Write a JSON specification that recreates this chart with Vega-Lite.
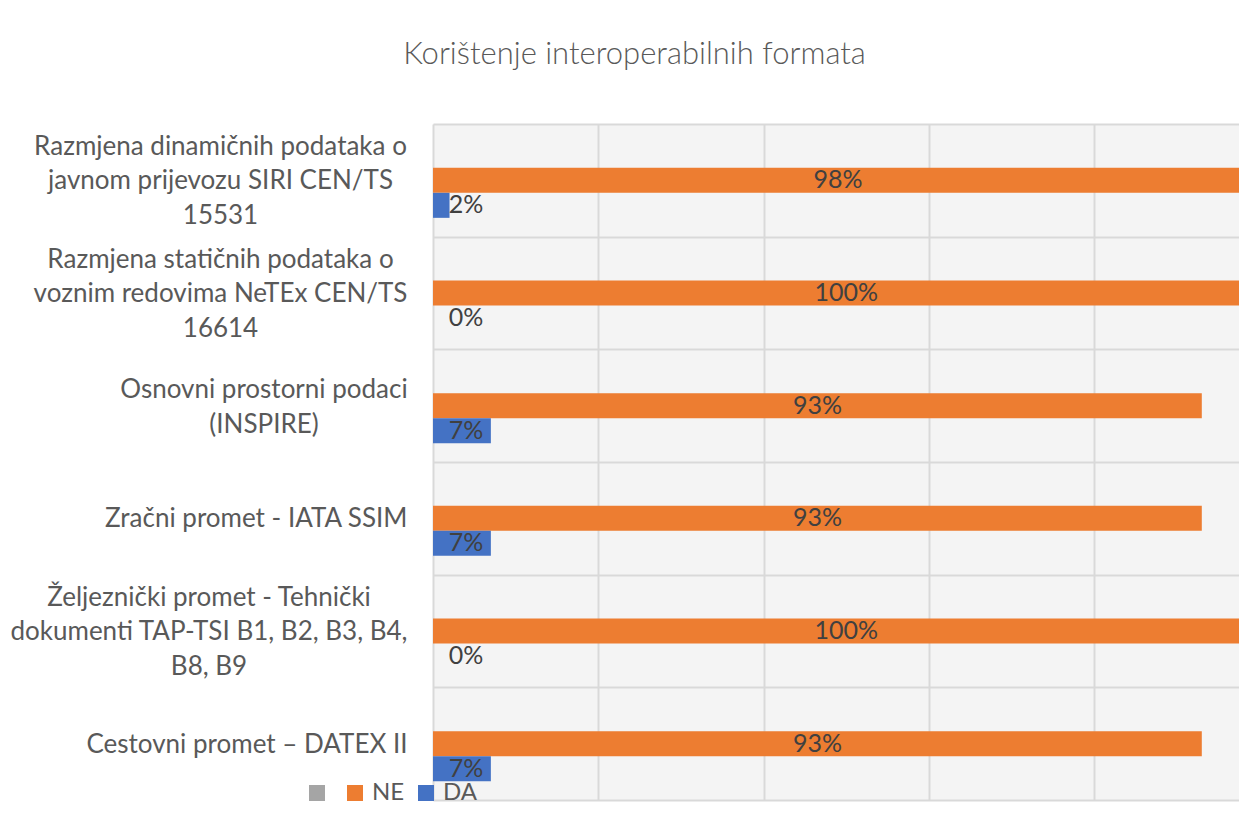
{
  "$schema": "https://vega.github.io/schema/vega-lite/v6.json",
  "width": 806,
  "height": 676,
  "autosize": {"type": "none"},
  "padding": {"left": 433, "top": 124, "right": 0, "bottom": 14},
  "background": "white",
  "title": {
    "text": "Korištenje interoperabilnih formata",
    "font": "Lato",
    "fontSize": 31,
    "fontWeight": 300,
    "color": "#595959",
    "anchor": "middle",
    "frame": "group",
    "dx": -201.5,
    "offset": 32
  },
  "data": {
    "values": [
      {"kategorija": "Razmjena dinamičnih podataka o\njavnom prijevozu SIRI CEN/TS\n15531", "serija": "NE", "udio": 0.98},
      {"kategorija": "Razmjena dinamičnih podataka o\njavnom prijevozu SIRI CEN/TS\n15531", "serija": "DA", "udio": 0.02},
      {"kategorija": "Razmjena statičnih podataka o\nvoznim redovima NeTEx CEN/TS\n16614", "serija": "NE", "udio": 1.0},
      {"kategorija": "Razmjena statičnih podataka o\nvoznim redovima NeTEx CEN/TS\n16614", "serija": "DA", "udio": 0.0},
      {"kategorija": "Osnovni prostorni podaci\n(INSPIRE)", "serija": "NE", "udio": 0.93},
      {"kategorija": "Osnovni prostorni podaci\n(INSPIRE)", "serija": "DA", "udio": 0.07},
      {"kategorija": "Zračni promet - IATA SSIM", "serija": "NE", "udio": 0.93},
      {"kategorija": "Zračni promet - IATA SSIM", "serija": "DA", "udio": 0.07},
      {"kategorija": "Željeznički promet - Tehnički\ndokumenti TAP-TSI B1, B2, B3, B4,\nB8, B9", "serija": "NE", "udio": 1.0},
      {"kategorija": "Željeznički promet - Tehnički\ndokumenti TAP-TSI B1, B2, B3, B4,\nB8, B9", "serija": "DA", "udio": 0.0},
      {"kategorija": "Cestovni promet – DATEX II", "serija": "NE", "udio": 0.93},
      {"kategorija": "Cestovni promet – DATEX II", "serija": "DA", "udio": 0.07}
    ]
  },
  "encoding": {
    "y": {
      "field": "kategorija",
      "type": "nominal",
      "sort": null,
      "scale": {"paddingInner": 0, "paddingOuter": 0},
      "axis": {
        "title": null,
        "domain": false,
        "ticks": false,
        "tickSize": 0,
        "grid": true,
        "tickBand": "extent",
        "gridColor": "#d9d9d9",
        "gridWidth": 2,
        "labelFont": "Lato",
        "labelFontSize": 26,
        "labelColor": "#595959",
        "labelLineHeight": 34.5,
        "labelLimit": 0,
        "labelBaseline": "alphabetic",
        "labelExpr": "split(datum.label, '\\n')",
        "labelAlign": {"condition": {"test": "indexof('' + datum.label, '\\n') >= 0", "value": "center"}, "value": "right"},
        "labelPadding": {
          "condition": [
            {"test": "indexof('' + datum.label, 'dinamičnih') >= 0", "value": 213},
            {"test": "indexof('' + datum.label, 'statičnih') >= 0", "value": 213},
            {"test": "indexof('' + datum.label, 'Osnovni') >= 0", "value": 169.5},
            {"test": "indexof('' + datum.label, 'Željeznički') >= 0", "value": 224.5}
          ],
          "value": 26
        },
        "labelOffset": {
          "condition": [
            {"test": "indexof('' + datum.label, 'dinamičnih') >= 0", "value": -26},
            {"test": "indexof('' + datum.label, 'statičnih') >= 0", "value": -26},
            {"test": "indexof('' + datum.label, 'Osnovni') >= 0", "value": -8},
            {"test": "indexof('' + datum.label, 'Željeznički') >= 0", "value": -26}
          ],
          "value": 8.5
        }
      }
    },
    "yOffset": {
      "field": "serija",
      "type": "nominal",
      "scale": {"domain": ["", "NE", "DA"], "paddingInner": 0, "paddingOuter": 0.753}
    }
  },
  "layer": [
    {
      "mark": {"type": "bar"},
      "encoding": {
        "x": {
          "field": "udio",
          "type": "quantitative",
          "scale": {"domain": [0, 0.975], "nice": false, "zero": true},
          "axis": {
            "title": null,
            "labels": false,
            "ticks": false,
            "domain": false,
            "grid": true,
            "values": [0, 0.2, 0.4, 0.6, 0.8],
            "gridColor": "#d9d9d9",
            "gridWidth": 2
          }
        },
        "color": {
          "field": "serija",
          "type": "nominal",
          "scale": {"domain": ["", "NE", "DA"], "range": ["#a5a5a5", "#ed7d31", "#4472c4"]},
          "legend": {
            "title": null,
            "orient": "none",
            "legendX": -128,
            "legendY": 657,
            "direction": "horizontal",
            "symbolType": "square",
            "symbolSize": 256,
            "symbolStrokeWidth": 0,
            "symbolOpacity": 1,
            "labelFont": "Lato",
            "labelFontSize": 24,
            "labelColor": "#595959",
            "labelOffset": 5,
            "columnPadding": 9,
            "padding": 0
          }
        }
      }
    },
    {
      "transform": [
        {"filter": "datum.serija === 'NE'"},
        {"calculate": "datum.udio / 2", "as": "sredina"}
      ],
      "mark": {"type": "text", "font": "Lato", "fontSize": 25, "color": "#404040", "align": "center", "baseline": "middle"},
      "encoding": {
        "x": {"field": "sredina", "type": "quantitative"},
        "text": {"field": "udio", "type": "quantitative", "format": ".0%"}
      }
    },
    {
      "transform": [{"filter": "datum.serija === 'DA'"}],
      "mark": {"type": "text", "font": "Lato", "fontSize": 25, "color": "#404040", "align": "center", "baseline": "middle", "dx": 33},
      "encoding": {
        "x": {"datum": 0, "type": "quantitative"},
        "text": {"field": "udio", "type": "quantitative", "format": ".0%"}
      }
    }
  ],
  "config": {
    "view": {"fill": "#f4f4f4", "stroke": null}
  }
}
